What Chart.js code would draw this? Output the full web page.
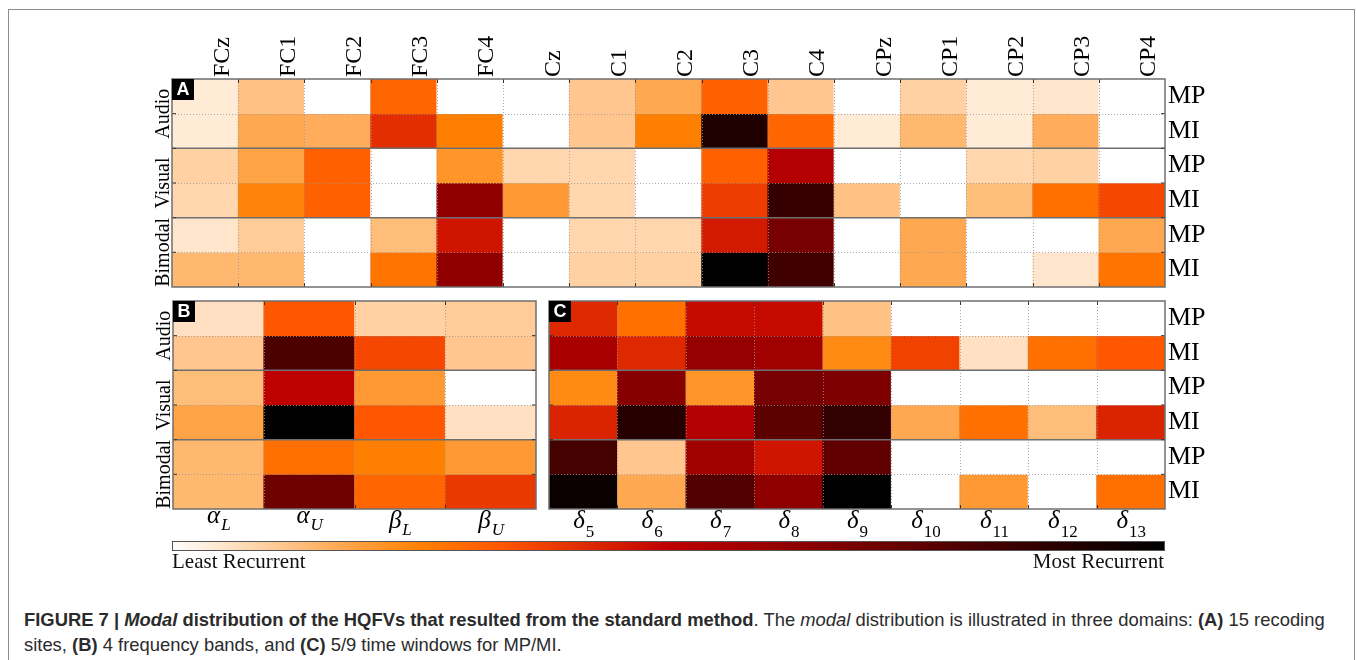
<!DOCTYPE html>
<html>
<head>
<meta charset="utf-8">
<title>Modal distribution of the HQFVs</title>
<script src="https://cdn.jsdelivr.net/npm/chart.js@4.4.0/dist/chart.umd.min.js"></script>
<style>
  body { margin: 0; background: #fff; }
  #page { position: relative; width: 1357px; height: 660px; overflow: hidden; background: #fff; }
  #frame { position: absolute; left: 8px; top: 9px; width: 1345px; height: 700px; border: 1px solid #8c8c8c; }
  canvas { position: absolute; }
  #cbar { position: absolute; left: 172px; top: 541px; width: 991px; height: 8px; border: 1px solid #555; }
  .cblabel { position: absolute; top: 551px; font: 21px "Liberation Serif", serif; line-height: 21px; color: #111; }
  #caption { position: absolute; left: 24px; top: 607px; font: 18.4px "Liberation Sans", Arial, sans-serif; line-height: 25px; color: #2b2b2b; white-space: nowrap; }
</style>
</head>
<body>
<div id="page">
  <div id="frame"></div>
  <canvas id="chartA" width="1095" height="270" style="left:130px;top:19px"></canvas>
  <canvas id="chartB" width="410" height="270" style="left:130px;top:290px"></canvas>
  <canvas id="chartC" width="685" height="270" style="left:540px;top:290px"></canvas>
  <div id="cbar"></div>
  <div class="cblabel" style="left:172px">Least Recurrent</div>
  <div class="cblabel" style="right:193px">Most Recurrent</div>
  <div id="caption"><b>FIGURE 7 | <i>Modal</i> distribution of the HQFVs that resulted from the standard method</b>. The <i>modal</i> distribution is illustrated in three domains: <b>(A)</b> 15 recoding<br>sites, <b>(B)</b> 4 frequency bands, and <b>(C)</b> 5/9 time windows for MP/MI.</div>
</div>

<script>
// categories
const siteLabels = ['FCz', 'FC1', 'FC2', 'FC3', 'FC4', 'Cz', 'C1', 'C2', 'C3', 'C4', 'CPz', 'CP1', 'CP2', 'CP3', 'CP4'];
const bandLabels = ['αL', 'αU', 'βL', 'βU'];
const windowLabels = ['δ5', 'δ6', 'δ7', 'δ8', 'δ9', 'δ10', 'δ11', 'δ12', 'δ13'];
const rowLabels = ['MP', 'MI', 'MP', 'MI', 'MP', 'MI'];
const groupLabels = ['Audio', 'Visual', 'Bimodal'];

// recurrence, 0 = least, 1 = most (one row per modality / task)
const siteValues = [
  [0.04, 0.12, 0, 0.30, 0, 0, 0.11, 0.17, 0.31, 0.11, 0, 0.09, 0.04, 0.05, 0],
  [0.04, 0.17, 0.16, 0.41, 0.25, 0, 0.11, 0.25, 0.92, 0.30, 0.04, 0.14, 0.04, 0.16, 0],
  [0.09, 0.18, 0.31, 0, 0.21, 0.08, 0.08, 0, 0.31, 0.53, 0, 0, 0.08, 0.09, 0],
  [0.08, 0.24, 0.31, 0, 0.62, 0.20, 0.08, 0, 0.38, 0.86, 0.12, 0, 0.13, 0.28, 0.36],
  [0.05, 0.10, 0, 0.13, 0.46, 0, 0.08, 0.08, 0.45, 0.69, 0, 0.17, 0, 0, 0.17],
  [0.14, 0.14, 0, 0.27, 0.62, 0, 0.09, 0.09, 1.00, 0.83, 0, 0.17, 0, 0.05, 0.27]
];

const bandValues = [
  [0.06, 0.33, 0.09, 0.10],
  [0.11, 0.80, 0.36, 0.11],
  [0.13, 0.50, 0.20, 0],
  [0.18, 1.00, 0.33, 0.06],
  [0.14, 0.28, 0.25, 0.20],
  [0.14, 0.71, 0.30, 0.39]
];

const windowValues = [
  [0.42, 0.28, 0.48, 0.48, 0.12, 0, 0, 0, 0],
  [0.56, 0.42, 0.61, 0.58, 0.23, 0.37, 0.06, 0.28, 0.33],
  [0.23, 0.65, 0.21, 0.69, 0.67, 0, 0, 0, 0],
  [0.43, 0.90, 0.53, 0.76, 0.87, 0.17, 0.28, 0.13, 0.43],
  [0.82, 0.11, 0.58, 0.46, 0.75, 0, 0, 0, 0],
  [0.97, 0.17, 0.79, 0.63, 1.00, 0, 0.20, 0, 0.28]
];

const SERIF = '"Liberation Serif", "DejaVu Serif", serif';

// white -> orange -> red -> black (like matplotlib gist_heat_r)
function heat(v) {
  const x = 1 - v;
  const c = t => Math.round(255 * Math.max(0, Math.min(1, t)));
  return `rgb(${c(1.5 * x)},${c(2 * x - 1)},${c(4 * x - 3)})`;
}

// grid, frame, panel letter, group labels, math tick labels
const panelPlugin = {
  id: 'panel',
  afterDatasetsDraw(chart, args, opts) {
    const {ctx, chartArea: a, scales: {x, y}} = chart;
    const nCols = chart.data.labels.length;
    const nRows = chart.data.datasets.length;
    const colEdges = [];
    for (let i = 1; i < nCols; i++) colEdges.push((x.getPixelForValue(i - 1) + x.getPixelForValue(i)) / 2);
    const rowEdges = [];
    for (let r = 1; r < nRows; r++) rowEdges.push(y.getPixelForValue(r));

    const line = (x1, y1, x2, y2) => { ctx.beginPath(); ctx.moveTo(x1, y1); ctx.lineTo(x2, y2); ctx.stroke(); };

    ctx.save();
    // dotted cell lines
    ctx.strokeStyle = 'rgba(150,150,150,0.8)';
    ctx.lineWidth = 1;
    ctx.setLineDash([1, 2]);
    colEdges.forEach(px => line(Math.round(px) + 0.5, a.top, Math.round(px) + 0.5, a.bottom));
    rowEdges.forEach((py, i) => { if (i % 2 === 0) line(a.left, Math.round(py) + 0.5, a.right, Math.round(py) + 0.5); });
    ctx.setLineDash([]);

    // solid lines between modalities
    ctx.strokeStyle = '#6f6f6f';
    ctx.lineWidth = 1.5;
    rowEdges.forEach((py, i) => { if (i % 2 === 1) line(a.left, py, a.right, py); });

    // small inward ticks
    ctx.strokeStyle = '#333';
    ctx.lineWidth = 1;
    colEdges.forEach(px => {
      line(Math.round(px) + 0.5, a.top, Math.round(px) + 0.5, a.top + 4);
      line(Math.round(px) + 0.5, a.bottom, Math.round(px) + 0.5, a.bottom - 4);
    });
    rowEdges.forEach(py => {
      line(a.left, py, a.left + 4, py);
      line(a.right, py, a.right - 4, py);
    });

    // frame
    ctx.strokeStyle = '#6f6f6f';
    ctx.lineWidth = 1.5;
    ctx.strokeRect(a.left, a.top, a.right - a.left, a.bottom - a.top);

    // panel letter
    ctx.fillStyle = '#000';
    ctx.fillRect(a.left, a.top, 22, 21);
    ctx.fillStyle = '#fff';
    ctx.font = 'bold 18px "Liberation Sans", Arial, sans-serif';
    ctx.textAlign = 'center';
    ctx.textBaseline = 'middle';
    ctx.fillText(opts.letter, a.left + 11, a.top + 11.5);

    // modality labels on the left
    if (opts.groups) {
      ctx.fillStyle = '#000';
      ctx.font = '20px ' + SERIF;
      ctx.textBaseline = 'alphabetic';
      opts.groups.forEach((g, i) => {
        ctx.save();
        ctx.translate(a.left - 3, y.getPixelForValue(2 * i + 1));
        ctx.rotate(-Math.PI / 2);
        ctx.fillText(g, 0, 0);
        ctx.restore();
      });
    }

    // greek labels with subscripts under the panel
    if (opts.mathLabels) {
      ctx.fillStyle = '#000';
      ctx.textAlign = 'left';
      ctx.textBaseline = 'alphabetic';
      chart.data.labels.forEach((lab, i) => {
        const main = lab[0];
        const sub = lab.slice(1);
        const digits = /^\d+$/.test(sub);
        const mainFont = 'italic 25px ' + SERIF;
        const subFont = (digits ? '' : 'italic ') + '17px ' + SERIF;
        ctx.font = mainFont;
        const mw = ctx.measureText(main).width;
        ctx.font = subFont;
        const sw = ctx.measureText(sub).width;
        const x0 = x.getPixelForValue(i) - (mw + sw) / 2;
        const base = a.bottom + (main === 'α' ? 14 : 19);
        ctx.font = mainFont;
        ctx.fillText(main, x0, base);
        ctx.font = subFont;
        ctx.fillText(sub, x0 + mw + 1, base + (digits ? 9 : 7));
      });
    }
    ctx.restore();
  }
};

function heatmap(canvasId, cols, rows, opt) {
  const xScale = opt.topLabels ? {
    type: 'category',
    position: 'top',
    grid: {display: false, drawTicks: false},
    border: {display: false},
    ticks: {
      minRotation: 90, maxRotation: 90, autoSkip: false,
      labelOffset: 46, padding: 2,
      font: {family: SERIF, size: 24}, color: '#000'
    },
    afterFit: s => { s.height = 60; s.paddingLeft = 0; s.paddingRight = 0; }
  } : {type: 'category', display: false};

  const yScale = {
    type: 'linear',
    min: 0,
    max: rows.length,
    reverse: true,
    position: 'right',
    display: !!opt.rowLabels,
    grid: {display: false, drawTicks: false},
    border: {display: false},
    afterBuildTicks: s => { s.ticks = rowLabels.map((l, i) => ({value: i + 0.5})); },
    ticks: {
      autoSkip: false, padding: 3,
      callback: (v, i) => rowLabels[i],
      font: {family: SERIF, size: 26}, color: '#000'
    },
    afterFit: s => {
      if (opt.rowLabels) s.width = 60;
      s.paddingTop = 0;
      s.paddingBottom = 0;
    }
  };

  return new Chart(document.getElementById(canvasId), {
    type: 'bar',
    data: {
      labels: cols,
      datasets: rows.map((vals, r) => ({
        data: vals.map(() => [r, r + 1]),
        backgroundColor: vals.map(heat),
        borderWidth: 0,
        grouped: false,
        barPercentage: 1,
        categoryPercentage: 1
      }))
    },
    options: {
      responsive: false,
      animation: false,
      events: [],
      layout: {padding: opt.padding},
      plugins: {
        legend: {display: false},
        tooltip: {enabled: false},
        panel: {letter: opt.letter, groups: opt.groups, mathLabels: opt.mathLabels}
      },
      scales: {x: xScale, y: yScale}
    },
    plugins: [panelPlugin]
  });
}

heatmap('chartA', siteLabels, siteValues, {
  letter: 'A', groups: groupLabels, topLabels: true, rowLabels: true,
  padding: {left: 42, right: 0, top: 0, bottom: 2}
});

heatmap('chartB', bandLabels, bandValues, {
  letter: 'B', groups: groupLabels, mathLabels: true,
  padding: {left: 43, right: 4, top: 11, bottom: 51}
});

heatmap('chartC', windowLabels, windowValues, {
  letter: 'C', mathLabels: true, rowLabels: true,
  padding: {left: 9, right: 0, top: 11, bottom: 51}
});

// colour bar
const stops = [];
for (let i = 0; i <= 12; i++) stops.push(`${heat(i / 12)} ${(i / 12 * 100).toFixed(2)}%`);
document.getElementById('cbar').style.background = `linear-gradient(to right, ${stops.join(', ')})`;
</script>
</body>
</html>
